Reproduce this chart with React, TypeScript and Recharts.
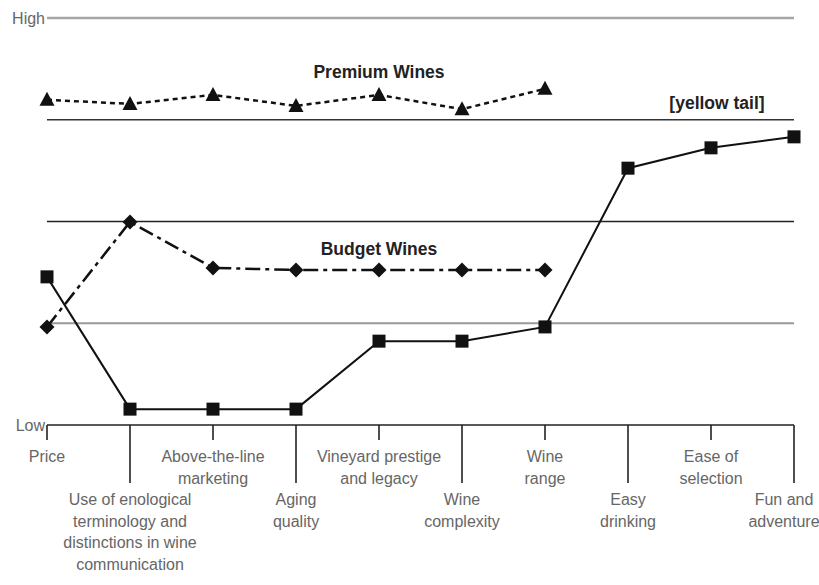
import React from "react";
import { LineChart, Line, XAxis, YAxis, ReferenceLine, ReferenceDot } from "recharts";

// attributes along the x axis (\n = line break in tick label)
const categories = [
  "Price",
  "Use of enological\nterminology and\ndistinctions in wine\ncommunication",
  "Above-the-line\nmarketing",
  "Aging\nquality",
  "Vineyard prestige\nand legacy",
  "Wine\ncomplexity",
  "Wine\nrange",
  "Easy\ndrinking",
  "Ease of\nselection",
  "Fun and\nadventure",
];

// offering level, 0 = Low, 100 = High
const premiumWines = [79.9, 78.9, 81.1, 78.4, 81.1, 77.6, 82.6, null, null, null];
const budgetWines = [24.1, 49.9, 38.6, 38.1, 38.1, 38.1, 38.1, null, null, null];
const yellowTail = [36.4, 3.9, 3.9, 3.9, 20.6, 20.6, 24.1, 63.1, 68.1, 70.8];

const yTicks = [0, 100];
const yTickLabels = ["Low", "High"];

const data = categories.map((name, i) => ({
  name,
  premium: premiumWines[i],
  budget: budgetWines[i],
  yellow: yellowTail[i],
}));

const textColor = "#666";
const font = "'Liberation Sans', Arial, sans-serif";

const XTick = (props: any) => {
  const { x, y, payload, index } = props;
  const long = index % 2 === 1;
  const len = long ? 58 : 15;
  const lines = String(payload.value).split("\n");
  const first = y + len + 22;
  // last label sits against the right edge
  const tx = index === categories.length - 1 ? x - 10 : x;
  return (
    <g>
      <line x1={x} y1={y} x2={x} y2={y + len} stroke="#222" strokeWidth={1.6} />
      <text textAnchor="middle" fill={textColor} fontSize={16} fontFamily={font}>
        {lines.map((l: string, k: number) => (
          <tspan key={k} x={tx} y={first + k * 21.7}>
            {l}
          </tspan>
        ))}
      </text>
    </g>
  );
};

const Triangle = (props: any) => {
  const { cx, cy, index } = props;
  if (cx == null || cy == null) return <g key={index} />;
  return <path key={index} d={`M${cx},${cy - 8} L${cx + 7.5},${cy + 6} L${cx - 7.5},${cy + 6} Z`} fill="#111" />;
};

const Diamond = (props: any) => {
  const { cx, cy, index } = props;
  if (cx == null || cy == null) return <g key={index} />;
  return <path key={index} d={`M${cx},${cy - 7.5} L${cx + 7.5},${cy} L${cx},${cy + 7.5} L${cx - 7.5},${cy} Z`} fill="#111" />;
};

const Square = (props: any) => {
  const { cx, cy, index } = props;
  if (cx == null || cy == null) return <g key={index} />;
  return <rect key={index} x={cx - 6.5} y={cy - 6.5} width={13} height={13} fill="#111" />;
};

const seriesLabel = { fill: "#222", fontSize: 17.5, fontWeight: "bold", fontFamily: font, position: "center" as const };

export default function App() {
  return (
    <div style={{ position: "absolute", left: 0, top: 0, background: "#fff" }}>
      <LineChart width={819} height={585} data={data} margin={{ top: 18, right: 25, bottom: 0, left: 0 }}>
        <XAxis
          dataKey="name"
          height={160}
          axisLine={{ stroke: "#222", strokeWidth: 1.6 }}
          tickLine={false}
          tickSize={0}
          tickMargin={0}
          interval={0}
          tick={<XTick />}
        />
        <YAxis
          type="number"
          domain={[0, 100]}
          ticks={yTicks}
          width={47}
          axisLine={false}
          tickLine={false}
          tickSize={0}
          tickMargin={2}
          tickFormatter={(v: number) => yTickLabels[yTicks.indexOf(v)]}
          tick={{ fill: textColor, fontSize: 16, fontFamily: font }}
        />
        <ReferenceLine y={100} stroke="#a6a6a6" strokeWidth={2.5} />
        <ReferenceLine y={75} stroke="#333" strokeWidth={1.5} />
        <ReferenceLine y={50} stroke="#222" strokeWidth={1.5} />
        <ReferenceLine y={25} stroke="#999" strokeWidth={1.8} />
        <Line
          dataKey="premium"
          stroke="#111"
          strokeWidth={2.5}
          strokeDasharray="5 4"
          dot={Triangle}
          activeDot={false}
          connectNulls={false}
          isAnimationActive={false}
        />
        <Line
          dataKey="budget"
          stroke="#111"
          strokeWidth={2.5}
          strokeDasharray="15 5 4 5"
          dot={Diamond}
          activeDot={false}
          isAnimationActive={false}
        />
        <Line
          dataKey="yellow"
          stroke="#111"
          strokeWidth={2}
          dot={Square}
          activeDot={false}
          isAnimationActive={false}
        />
        <ReferenceDot x={categories[4]} y={86.7} r={1} fill="none" stroke="none" label={{ value: "Premium Wines", ...seriesLabel }} />
        <ReferenceDot x={categories[4]} y={43.2} r={1} fill="none" stroke="none" label={{ value: "Budget Wines", ...seriesLabel }} />
        <ReferenceDot x={categories[8]} y={79.1} r={1} fill="none" stroke="none" label={{ value: "[yellow tail]", ...seriesLabel, dx: 6 }} />
      </LineChart>
    </div>
  );
}
